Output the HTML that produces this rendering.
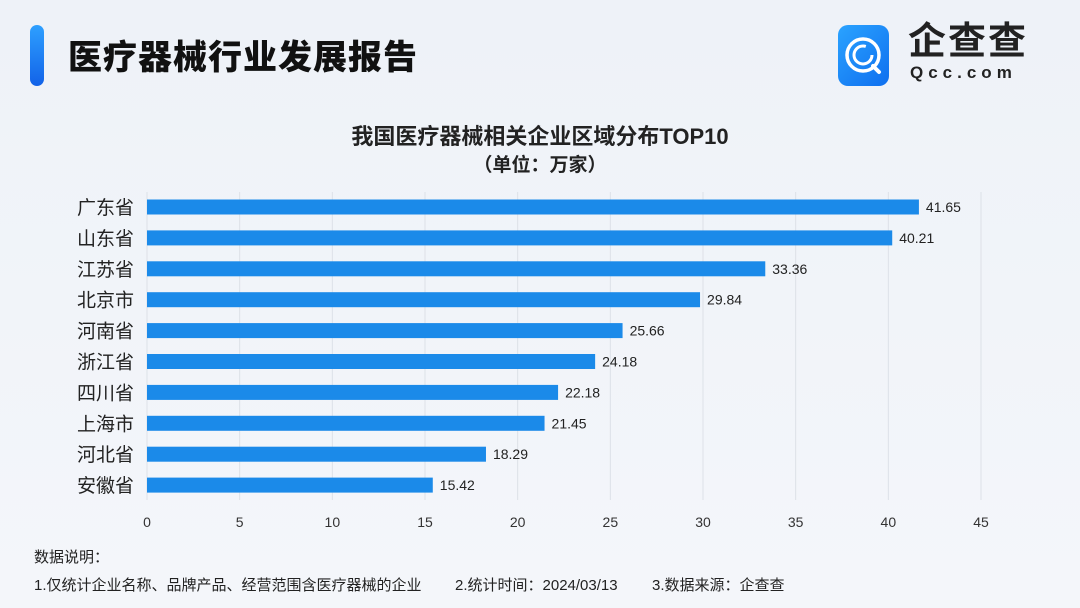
<!DOCTYPE html>
<html><head><meta charset="utf-8"><style>
body{margin:0;width:1080px;height:608px;overflow:hidden;background:linear-gradient(180deg,#eef2f8 0%,#f4f6fa 100%);font-family:"Liberation Sans","Noto Sans CJK SC",sans-serif;position:relative}
.abs{position:absolute}
.fn{position:absolute;top:574px;font-size:15px;color:#222;white-space:nowrap}
</style></head><body>
<div class="abs" style="left:30px;top:25px;width:14px;height:61px;border-radius:7px;background:linear-gradient(180deg,#2ea0ff,#1262e8)"></div>
<div class="abs" style="left:68px;top:30px;font-size:34px;font-weight:900;color:#111;letter-spacing:1px">医疗器械行业发展报告</div>
<div class="abs" style="left:838px;top:25px;width:51px;height:61px;border-radius:10px;background:linear-gradient(135deg,#2aa3ff,#0f6fef)">
<svg width="51" height="61" viewBox="0 0 51 61"><circle cx="25" cy="30" r="16" fill="none" stroke="#fff" stroke-width="3.5"/><circle cx="25" cy="30" r="9" fill="none" stroke="#fff" stroke-width="3" stroke-dasharray="45 12"/><line x1="35" y1="41" x2="41" y2="47" stroke="#fff" stroke-width="4" stroke-linecap="round"/></svg></div>
<div class="abs" style="left:908px;top:20px;font-size:38px;line-height:44px;color:#222;letter-spacing:2px;font-weight:bold">企查查</div>
<div class="abs" style="left:910px;top:64px;font-size:17px;line-height:18px;color:#222;letter-spacing:5px;font-weight:bold">Qcc.com</div>
<div class="abs" style="left:0;width:1080px;top:119px;text-align:center;font-size:22px;font-weight:bold;color:#222">我国医疗器械相关企业区域分布TOP10</div>
<div class="abs" style="left:0;width:1080px;top:150px;text-align:center;font-size:19px;font-weight:bold;color:#222">（单位：万家）</div>
<svg class="abs" style="left:0;top:0" width="1080" height="608" id="chart"></svg>
<div class="abs" style="left:34px;top:546px;font-size:15px;color:#222">数据说明：</div>
<div class="fn" style="left:34px">1.仅统计企业名称、品牌产品、经营范围含医疗器械的企业</div>
<div class="fn" style="left:455px">2.统计时间：2024/03/13</div>
<div class="fn" style="left:652px">3.数据来源：企查查</div>
<script>
const categories=["广东省","山东省","江苏省","北京市","河南省","浙江省","四川省","上海市","河北省","安徽省"];
const values=[41.65,40.21,33.36,29.84,25.66,24.18,22.18,21.45,18.29,15.42];
const ticks=[0,5,10,15,20,25,30,35,40,45];
const svg=document.getElementById('chart');
const NS='http://www.w3.org/2000/svg';
const x=v=>147+v*(834/45);
const y=i=>207+i*30.9;
function mk(t,a){const e=document.createElementNS(NS,t);for(const k in a)e.setAttribute(k,a[k]);svg.appendChild(e);return e;}
ticks.forEach(t=>{
 const g=mk('line',{x1:x(t),x2:x(t),y1:192,y2:500,stroke:'#dde1e8','stroke-width':1});
 
 
 const l=mk('text',{x:x(t),y:527,'text-anchor':'middle','font-size':14,fill:'#333'});
 l.textContent=t;
 
 
});
categories.forEach((c,i)=>{
 const b=mk('rect',{x:x(0),y:y(i)-7.5,width:x(values[i])-x(0),height:15,fill:'#1b8ae9'});
 
 
 const l=mk('text',{x:134,y:y(i)+7,'text-anchor':'end','font-size':19,fill:'#222'});
 l.textContent=c;
 
 
 const v=mk('text',{x:x(values[i])+7,y:y(i)+5,'font-size':14,fill:'#222'});
 v.textContent=values[i].toFixed(2);
 
 
});
</script>
</body></html>
